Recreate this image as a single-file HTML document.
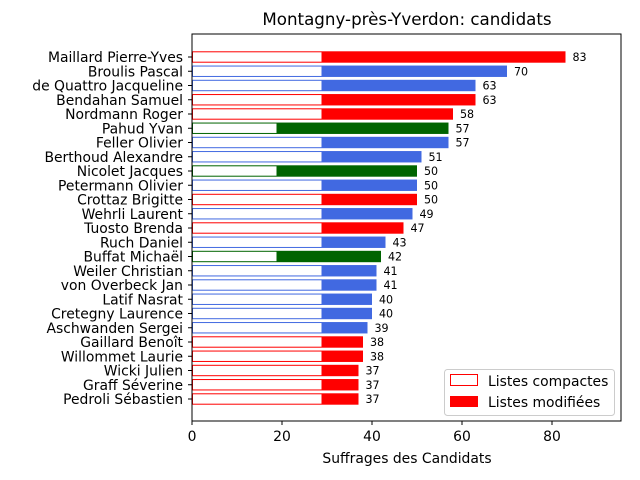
<!DOCTYPE html>
<html><head><meta charset="utf-8"><style>
body{margin:0;background:#fff;}
svg{display:block;font-family:"DejaVu Sans","Liberation Sans",sans-serif;}
</style></head><body>
<svg id="chart" width="640" height="480"></svg>
<script>
const names=["Maillard Pierre-Yves","Broulis Pascal","de Quattro Jacqueline","Bendahan Samuel","Nordmann Roger","Pahud Yvan","Feller Olivier","Berthoud Alexandre","Nicolet Jacques","Petermann Olivier","Crottaz Brigitte","Wehrli Laurent","Tuosto Brenda","Ruch Daniel","Buffat Michaël","Weiler Christian","von Overbeck Jan","Latif Nasrat","Cretegny Laurence","Aschwanden Sergei","Gaillard Benoît","Willommet Laurie","Wicki Julien","Graff Séverine","Pedroli Sébastien"];
const totals=[83,70,63,63,58,57,57,51,50,50,50,49,47,43,42,41,41,40,40,39,38,38,37,37,37];
const compact=[29,29,29,29,29,19,29,29,19,29,29,29,29,29,19,29,29,29,29,29,29,29,29,29,29];
const parties=["r","b","b","r","r","g","b","b","g","b","r","b","r","b","g","b","b","b","b","b","r","r","r","r","r"];
const xTicks=[0,20,40,60,80];
const colors={r:"#ff0000",b:"#4169e1",g:"#006400"};
const L=192,R=621,T=34,B=421;
const sx=v=>L+v*4.5;
const sy=i=>57+i*14.25;
const NS="http://www.w3.org/2000/svg";
const svg=document.getElementById('chart');
function mk(tag,a,p){const e=document.createElementNS(NS,tag);for(const k in a)e.setAttribute(k,a[k]);(p||svg).appendChild(e);return e;}
const t=mk('text',{x:407,y:25,'text-anchor':'middle','font-size':16.7,fill:'#000'});t.textContent="Montagny-près-Yverdon: candidats";


const bh=11.4;
names.forEach((n,i)=>{
  const y=sy(i),c=colors[parties[i]];
  const g=mk('g',{});
  
  
  mk('rect',{x:sx(compact[i]),y:y-bh/2,width:sx(totals[i])-sx(compact[i]),height:bh,fill:c},g);
  mk('rect',{x:sx(0)+0.5,y:y-bh/2+0.5,width:sx(compact[i])-sx(0)-1,height:bh-1,fill:'#fff',stroke:c,'stroke-width':1},g);
  const v=mk('text',{x:sx(totals[i])+7,y:y+4,'font-size':11.1,fill:'#000'});v.textContent=totals[i];
  
  
  mk('line',{x1:L-4,x2:L,y1:y,y2:y,stroke:'#000'});
  const l=mk('text',{x:L-9,y:y+5,'text-anchor':'end','font-size':13.9,fill:'#000'});l.textContent=n;
  
  
});
const fr=mk('rect',{x:L,y:T,width:R-L,height:B-T,fill:'none',stroke:'#000','stroke-width':1});


xTicks.forEach(v=>{
  mk('line',{x1:sx(v),x2:sx(v),y1:B,y2:B+4,stroke:'#000'});
  const e=mk('text',{x:sx(v),y:B+20,'text-anchor':'middle','font-size':13.9,fill:'#000'});e.textContent=v;
  
  
});
const xl=mk('text',{x:407,y:463,'text-anchor':'middle','font-size':13.9,fill:'#000'});xl.textContent="Suffrages des Candidats";


const lg=mk('g',{});


mk('rect',{x:444.5,y:369.5,width:170,height:46,rx:3,fill:'#fff',stroke:'#ccc'},lg);
mk('rect',{x:450.5,y:374.5,width:27,height:11,fill:'#fff',stroke:'#ff0000'},lg);
mk('rect',{x:450,y:396,width:28,height:11,fill:'#ff0000'},lg);
const l1=mk('text',{x:488,y:386,'font-size':13.9,fill:'#000'},lg);l1.textContent="Listes compactes";


const l2=mk('text',{x:488,y:407,'font-size':13.9,fill:'#000'},lg);l2.textContent="Listes modifiées";


</script>
</body></html>
